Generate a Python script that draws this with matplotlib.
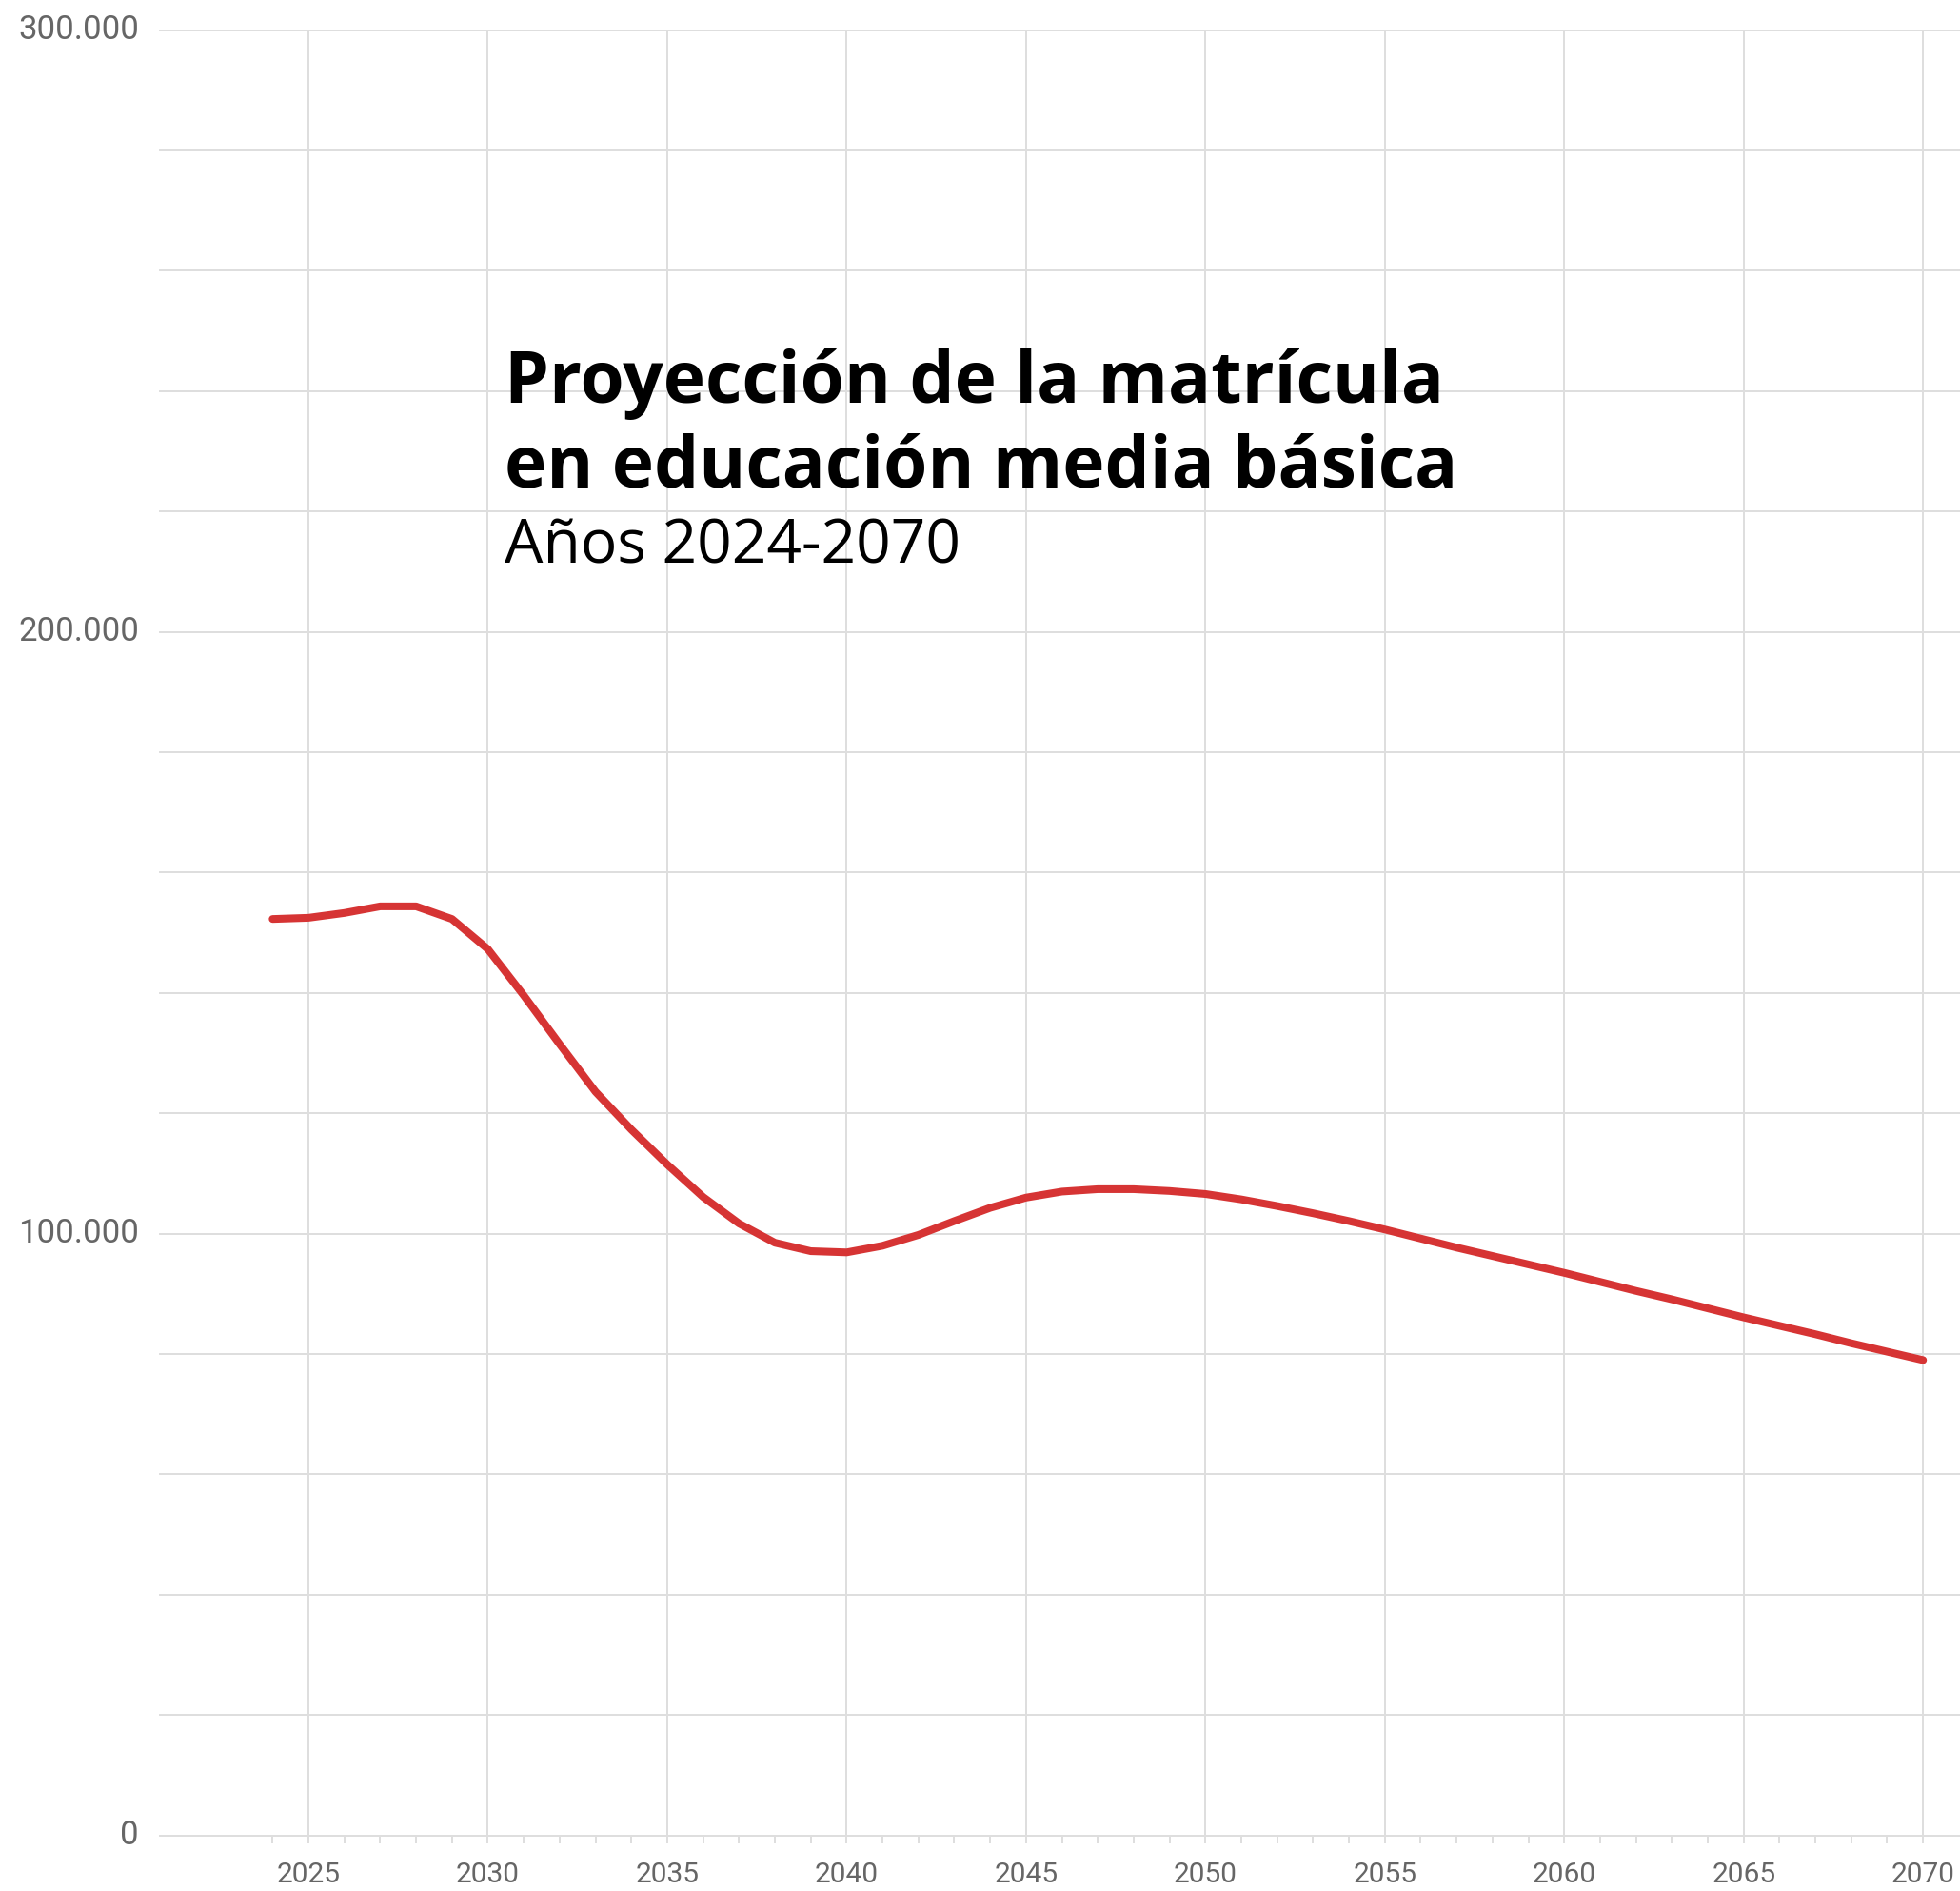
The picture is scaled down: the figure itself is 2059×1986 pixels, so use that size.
import matplotlib.pyplot as plt
from matplotlib.ticker import FixedLocator, FuncFormatter
from matplotlib.transforms import ScaledTranslation

# Proyección de la matrícula en educación media básica, 2024-2070
years = list(range(2024, 2071))
matricula = [152300, 152500, 153300, 154400, 154400, 152300, 147300, 139600,
             131500, 123600, 117300, 111500, 106100, 101700, 98500, 97100,
             96900, 98000, 99800, 102100, 104300, 106000, 107000, 107400,
             107400, 107100, 106600, 105700, 104600, 103400, 102100, 100700,
             99200, 97700, 96300, 94900, 93500, 92000, 90500, 89100,
             87600, 86100, 84700, 83300, 81800, 80400, 79000]

y_grid = list(range(0, 300001, 20000))
y_labels = [0, 100000, 200000, 300000]
x_major = list(range(2025, 2071, 5))

title_1 = 'Proyección de la matrícula'
title_2 = 'en educación media básica'
subtitle = 'Años 2024-2070'

grid_col = '#dedede'
text_col = '#666666'
red = '#d63434'

fig = plt.figure(figsize=(20.59, 19.86), dpi=100)
ax = fig.add_axes([0.08159, 0.02936, 0.91841, 0.95468])

ax.plot(years, matricula, color=red, linewidth=5.8, solid_capstyle='round',
        solid_joinstyle='round', zorder=3, clip_on=False)

ax.set_xlim(2020.86, 2071.03)
ax.set_ylim(0, 300000)

for s in ax.spines.values():
    s.set_visible(False)

ax.yaxis.set_major_locator(FixedLocator(y_grid))
ax.yaxis.set_major_formatter(FuncFormatter(
    lambda v, p: (f'{v:,.0f}'.replace(',', '.') if int(v) in y_labels else '')))
ax.tick_params(axis='y', length=0, pad=16, labelsize=25, labelcolor=text_col)

ax.xaxis.set_major_locator(FixedLocator(x_major))
ax.xaxis.set_minor_locator(FixedLocator(years))
ax.tick_params(axis='x', which='both', length=6, width=1.4, color=grid_col,
               pad=14, labelsize=21.5, labelcolor=text_col)

ax.grid(True, axis='both', which='major', color=grid_col, linewidth=1.4, zorder=0)
for gl in ax.get_ygridlines() + ax.get_xgridlines():
    gl.set_clip_on(False)

up = ScaledTranslation(0, 4 / 100, fig.dpi_scale_trans)
for lab in ax.get_yticklabels():
    lab.set_transform(lab.get_transform() + up)
for lab in ax.get_xticklabels() + ax.get_yticklabels():
    lab.set_family(['Roboto', 'DejaVu Sans'])

fig.text(0.2574, 0.78686, title_1, fontsize=53.8, fontweight='bold',
         family=['Open Sans', 'DejaVu Sans'], va='baseline', color='black')
fig.text(0.2574, 0.74235, title_2, fontsize=53.8, fontweight='bold',
         family=['Open Sans', 'DejaVu Sans'], va='baseline', color='black')
fig.text(0.2574, 0.70206, subtitle, fontsize=46.1, fontweight='normal',
         family=['Open Sans', 'DejaVu Sans'], va='baseline', color='black')

fig.savefig('out.png', dpi=100)
